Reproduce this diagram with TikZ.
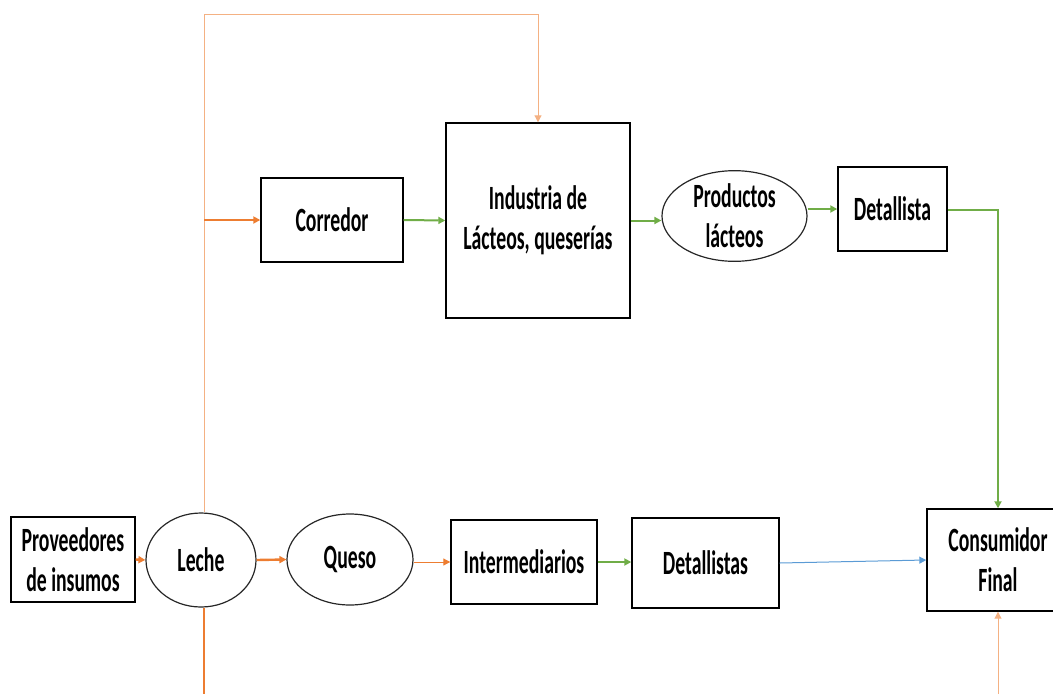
\documentclass[tikz,border=0pt]{standalone}
\usepackage{fontspec}
\newfontfamily\lblfont[FakeStretch=0.58]{Carlito}
\usetikzlibrary{arrows.meta,shapes.geometric}
\definecolor{orng}{HTML}{ED7D31}
\definecolor{lorng}{HTML}{F4B183}
\definecolor{grn}{HTML}{70AD47}
\definecolor{blu}{HTML}{5B9BD5}
\tikzset{
  box/.style={draw=black, line width=1.4pt, rectangle, align=center, inner sep=0pt,
    font=\lblfont\bfseries\fontsize{34}{40}\selectfont},
  oval/.style={draw=black!85, line width=1.2pt, ellipse, align=center, inner sep=0pt,
    font=\lblfont\bfseries\fontsize{34}{40}\selectfont},
  tip/.style={-{Triangle[length=7pt,width=7pt]}},
  thickor/.style={draw=orng, line width=2.4pt, tip},
  thinor/.style={draw=orng, line width=1pt, tip},
  lightor/.style={draw=lorng, line width=1pt, tip},
  green/.style={draw=grn, line width=2pt, tip},
  blueln/.style={draw=blu, line width=1pt, tip},
}
\begin{document}
\begin{tikzpicture}[x=1pt,y=-1pt]
\useasboundingbox (0,0) rectangle (1053,694);
% nodes
\node[box, minimum width=124pt, minimum height=85pt] (prov) at (73,559.5) {Proveedores\\de insumos};
\node[oval, minimum width=110pt, minimum height=94pt] (leche) at (201,560) {Leche};
\node[oval, minimum width=126pt, minimum height=91pt] (queso) at (350,559.5) {Queso};
\node[box, minimum width=146pt, minimum height=84pt] (inter) at (524,562) {Intermediarios};
\node[box, minimum width=147pt, minimum height=90pt] (dets) at (705.5,563) {Detallistas};
\node[box, minimum width=142pt, minimum height=102pt] (cons) at (998,560) {Consumidor\\Final};
\node[box, minimum width=142pt, minimum height=84pt] (corr) at (332,220) {Corredor};
\node[box, minimum width=184pt, minimum height=195pt] (ind) at (538,220.5) {Industria de\\Lácteos, queserías};
\node[oval, minimum width=145pt, minimum height=84pt] (prod) at (734.5,216) {Productos\\lácteos};
\node[box, minimum width=109pt, minimum height=84pt] (det) at (892.5,209) {Detallista};
% coordinates
\coordinate (tl) at (204,14);
\coordinate (tr) at (538,14);
\coordinate (jc) at (204,220);
\coordinate (bot) at (204,694);
\coordinate (cbot) at (998,694);
\coordinate (dturn) at (998,210);
% connectors
\draw[thickor] (prov.east) -- (leche.west);
\draw[thickor] (leche.east) -- (queso.west);
\draw[thinor] (queso.east |- inter.west) -- (inter.west);
\draw[green] (inter.east) -- (inter.east -| dets.west);
\draw[blueln] (dets.east) -- (cons.west);
\draw[lightor] (tl |- leche.north) -- (tl) -- (tr) -- (ind.north);
\draw[thickor] (jc) -- (corr.west);
\draw[thickor, -] (bot |- leche.south) -- (bot);
\draw[lightor] (cbot) -- (cons.south);
\draw[green] (corr.east) -- (ind.west);
\draw[green] (ind.east) -- (ind.east -| prod.west);
\draw[green] (prod.east |- det.west) -- (det.west);
\draw[green] (det.east |- dturn) -- (dturn) -- (cons.north);
\end{tikzpicture}
\end{document}
